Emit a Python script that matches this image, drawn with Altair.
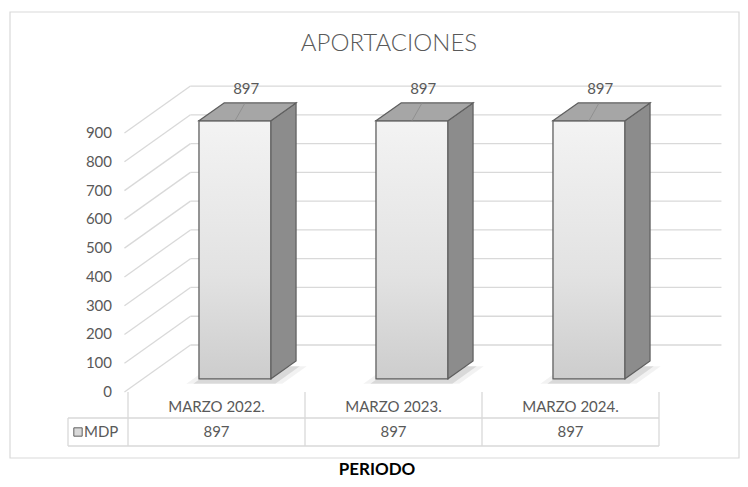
import altair as alt
import pandas as pd

# ---------------- data ----------------
categories = ["MARZO 2022.", "MARZO 2023.", "MARZO 2024."]
values = [897, 897, 897]
series_name = "MDP"
y_ticks = [0, 100, 200, 300, 400, 500, 600, 700, 800, 900]
title_text = "APORTACIONES"
x_title = "PERIODO"

# ---------------- layout (page pixels) ----------------
W, H, M = 732, 471, 8          # canvas and page margin
X0, PXC = 216.5, 177.0         # page x of first category, px per category
Y0, PXV = 392.0, 0.2877        # page y of value 0 (front), px per value unit
DX, DY = 66.0, 47.0            # 3-D depth vector (px) for full depth
D_FRONT, D_BACK = 0.28, 0.66   # bar depth span
HALF = 36.0 / PXC              # half bar width
WALL_L, WALL_R = -0.52, 2.48

def ux(p):
    return (p - X0) / PXC

def uy(p):
    return (Y0 - p) / PXV

def sx(d):
    return DX * d / PXC

def sy(d):
    return DY * d / PXV

xs = alt.Scale(domain=[ux(M), ux(M + W)], nice=False, zero=False)
ys = alt.Scale(domain=[uy(M + H), uy(M)], nice=False, zero=False)

def X(f):
    return alt.X(f, type="quantitative", scale=xs, axis=None)

def Y(f):
    return alt.Y(f, type="quantitative", scale=ys, axis=None)

n = len(categories)
GRID = "#d9d9d9"
EDGE = "#5f5f5f"
TXT = "#595959"
FONT = "Lato"

# ---------------- frame ----------------
frame = alt.Chart(pd.DataFrame({"a": [0]})).mark_rect(
    fillOpacity=0, stroke=GRID, strokeWidth=1.2
).encode(x=alt.value(2), x2=alt.value(731), y=alt.value(4), y2=alt.value(450))

# ---------------- walls ----------------
back_df = pd.DataFrame({
    "x": [WALL_L + sx(1)] * len(y_ticks),
    "x2": [WALL_R + sx(1)] * len(y_ticks),
    "y": [v + sy(1) for v in y_ticks],
})
back = alt.Chart(back_df).mark_rule(color=GRID, strokeWidth=1.3).encode(
    x=X("x"), x2="x2", y=Y("y"))

side_df = pd.DataFrame({
    "x": [WALL_L] * len(y_ticks),
    "x2": [WALL_L + sx(1)] * len(y_ticks),
    "y": list(y_ticks),
    "y2": [v + sy(1) for v in y_ticks],
})
sidewall = alt.Chart(side_df).mark_rule(color=GRID, strokeWidth=1.3).encode(
    x=X("x"), x2="x2", y=Y("y"), y2="y2")

ylab_df = pd.DataFrame({"x": [ux(112)] * len(y_ticks), "y": y_ticks,
                        "t": [str(v) for v in y_ticks]})
ylabels = alt.Chart(ylab_df).mark_text(
    align="right", baseline="middle", font=FONT, fontSize=15, color=TXT
).encode(x=X("x"), y=Y("y"), text="t:N")

# ---------------- bars ----------------
def shadow_layer(grow, opacity):
    rows = []
    for i, v in enumerate(values):
        for d in (D_FRONT - 0.04, D_BACK - 0.05):
            rows.append({"bar": i, "y": sy(d) - 3 / PXV,
                         "xl": i - HALF + sx(d) - grow / PXC,
                         "xr": i + HALF + sx(d) + (grow + 4) / PXC})
    return alt.Chart(pd.DataFrame(rows)).mark_area(
        orient="horizontal", color="#000000", opacity=opacity
    ).encode(y=Y("y"), x=X("xl"), x2="xr", detail="bar:N")

shadow1 = shadow_layer(10, 0.05)
shadow2 = shadow_layer(3, 0.10)

front_df = pd.DataFrame({
    "x": [i - HALF + sx(D_FRONT) for i in range(n)],
    "x2": [i + HALF + sx(D_FRONT) for i in range(n)],
    "y": [sy(D_FRONT)] * n,
    "y2": [v + sy(D_FRONT) for v in values],
})
grad = alt.LinearGradient(
    gradient="linear",
    stops=[alt.GradientStop(color="#f3f3f3", offset=0),
           alt.GradientStop(color="#e2e2e2", offset=0.6),
           alt.GradientStop(color="#cdcdcd", offset=1)],
    x1=0, x2=0, y1=0, y2=1)
front = alt.Chart(front_df).mark_rect(
    fill=grad, stroke=EDGE, strokeWidth=1.3
).encode(x=X("x"), x2="x2", y=Y("y"), y2="y2")

side_rows = []
for i, v in enumerate(values):
    for d in (D_FRONT, D_BACK):
        side_rows.append({"bar": i, "x": i + HALF + sx(d),
                          "top": v + sy(d), "bot": sy(d)})
side = alt.Chart(pd.DataFrame(side_rows)).mark_area(
    color="#8c8c8c", stroke=EDGE, strokeWidth=1.2
).encode(x=X("x"), y=Y("top"), y2="bot", detail="bar:N")

top_rows = []
for i, v in enumerate(values):
    for d in (D_FRONT, D_BACK):
        top_rows.append({"bar": i, "y": v + sy(d),
                         "xl": i - HALF + sx(d), "xr": i + HALF + sx(d)})
top = alt.Chart(pd.DataFrame(top_rows)).mark_area(
    orient="horizontal", color="#a6a6a6", stroke=EDGE, strokeWidth=1.2
).encode(y=Y("y"), x=X("xl"), x2="xr", detail="bar:N")

leader_df = pd.DataFrame({
    "x": [i + sx(D_FRONT) for i in range(n)],
    "x2": [i + sx(D_BACK) - 15 / PXC for i in range(n)],
    "y": [v + sy(D_FRONT) for v in values],
    "y2": [v + sy(D_BACK) for v in values],
})
leader = alt.Chart(leader_df).mark_rule(color="#8a8a8a", strokeWidth=0.8).encode(
    x=X("x"), x2="x2", y=Y("y"), y2="y2")

lab_df = pd.DataFrame({
    "x": [i + sx(0.45) for i in range(n)],
    "y": [v + sy(0.45) for v in values],
    "t": [str(v) for v in values],
})
labels = alt.Chart(lab_df).mark_text(
    font=FONT, fontSize=15, color=TXT, baseline="middle", dy=-24
).encode(x=X("x"), y=Y("y"), text="t:N")

# ---------------- data table ----------------
vlines_df = pd.DataFrame({
    "x": [i - 0.5 for i in range(n + 1)],
    "y": [uy(392)] * (n + 1),
    "y2": [uy(446)] * (n + 1),
})
vlines = alt.Chart(vlines_df).mark_rule(color=GRID, strokeWidth=1.3).encode(
    x=X("x"), y=Y("y"), y2="y2")

hlines_df = pd.DataFrame({
    "x": [ux(68), ux(68), ux(68)],
    "x2": [n - 0.5, n - 0.5, ux(68)],
    "y": [uy(418), uy(446), uy(418)],
    "y2": [uy(418), uy(446), uy(446)],
})
hlines = alt.Chart(hlines_df).mark_rule(color=GRID, strokeWidth=1.3).encode(
    x=X("x"), x2="x2", y=Y("y"), y2="y2")

cat_df = pd.DataFrame({"x": list(range(n)), "y": [uy(407)] * n, "t": categories})
cat_text = alt.Chart(cat_df).mark_text(
    font=FONT, fontSize=15, color=TXT, baseline="middle"
).encode(x=X("x"), y=Y("y"), text="t:N")

val_df = pd.DataFrame({"x": list(range(n)), "y": [uy(432)] * n,
                       "t": [str(v) for v in values]})
val_text = alt.Chart(val_df).mark_text(
    font=FONT, fontSize=15, color=TXT, baseline="middle"
).encode(x=X("x"), y=Y("y"), text="t:N")

key_df = pd.DataFrame({"x": [ux(78)], "y": [uy(432)]})
key = alt.Chart(key_df).mark_square(
    size=70, fill="#d9d9d9", stroke=EDGE, strokeWidth=1, opacity=1
).encode(x=X("x"), y=Y("y"))

ser_df = pd.DataFrame({"x": [ux(84)], "y": [uy(432)], "t": [series_name]})
ser_text = alt.Chart(ser_df).mark_text(
    font=FONT, fontSize=15, color=TXT, baseline="middle", align="left"
).encode(x=X("x"), y=Y("y"), text="t:N")

# ---------------- titles ----------------
title = alt.Chart(pd.DataFrame({"t": [title_text]})).mark_text(
    font=FONT, fontSize=24, fontWeight=300, color=TXT, baseline="middle"
).encode(x=alt.value(389 - M), y=alt.value(44 - M), text="t:N")

xtitle = alt.Chart(pd.DataFrame({"t": [x_title]})).mark_text(
    font=FONT, fontSize=17, fontWeight="bold", color="#000000", baseline="middle"
).encode(x=alt.value(377 - M), y=alt.value(470 - M), text="t:N")

chart = alt.layer(
    frame, back, sidewall, ylabels, shadow1, shadow2, front, side, top, leader,
    labels, vlines, hlines, cat_text, val_text, key, ser_text, title, xtitle
).properties(
    width=W, height=H, autosize=alt.AutoSizeParams(type="none"), padding=0,
    background="#ffffff"
).configure_view(strokeWidth=0)

chart.save("out.html", embed_options={"renderer": "svg", "actions": False})
